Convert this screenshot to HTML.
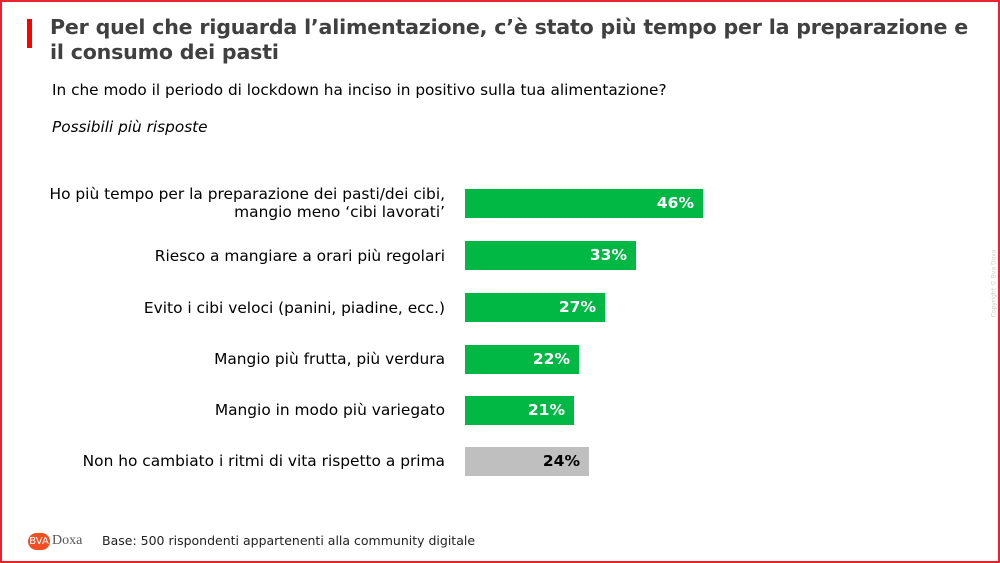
<!DOCTYPE html><html><head><style>
body{margin:0;width:1000px;height:563px;overflow:hidden;background:#fff;font-family:"DejaVu Sans","Liberation Sans",sans-serif;position:relative}
.frame{position:absolute;left:0;top:0;width:996px;height:559px;border:2px solid #e8232f}
.t{position:absolute;left:50px;top:15px;font-size:20.6px;font-weight:bold;color:#404040;line-height:25px;letter-spacing:-0.2px;white-space:nowrap}
.rb{position:absolute;left:27px;top:19px;width:5px;height:29px;background:#f00}
.s{position:absolute;left:52px;font-size:15.3px;color:#000;white-space:nowrap}
.l{position:absolute;right:555px;font-size:15.4px;color:#000;text-align:right;line-height:20px;white-space:nowrap}
.b{position:absolute;left:465px;height:29px;background:#00b843;color:#fff;font-weight:bold;font-size:15.5px;text-align:right;box-sizing:border-box;padding-right:9px;line-height:29px}
</style></head><body>
<div class="frame"></div>
<div class="rb"></div>
<div class="t">Per quel che riguarda l’alimentazione, c’è stato più tempo per la preparazione e<br>il consumo dei pasti</div>
<div class="s" style="top:81px">In che modo il periodo di lockdown ha inciso in positivo sulla tua alimentazione?</div>
<div class="s" style="top:118px;font-style:italic">Possibili più risposte</div>
<div class="l" style="top:185px;line-height:18px">Ho più tempo per la preparazione dei pasti/dei cibi,<br>mangio meno ‘cibi lavorati’</div>
<div class="l" style="top:246px">Riesco a mangiare a orari più regolari</div>
<div class="l" style="top:298px">Evito i cibi veloci (panini, piadine, ecc.)</div>
<div class="l" style="top:349px">Mangio più frutta, più verdura</div>
<div class="l" style="top:400px">Mangio in modo più variegato</div>
<div class="l" style="top:451px">Non ho cambiato i ritmi di vita rispetto a prima</div>
<div class="b" style="top:189px;width:238px">46%</div>
<div class="b" style="top:241px;width:171px">33%</div>
<div class="b" style="top:293px;width:140px">27%</div>
<div class="b" style="top:345px;width:114px">22%</div>
<div class="b" style="top:396px;width:109px">21%</div>
<div class="b" style="top:447px;width:124px;background:#bfbfbf;color:#000">24%</div>
<div style="position:absolute;left:28px;top:533px;width:22px;height:17px;border-radius:9px;background:#f04e23;color:#fff;font-size:10px;line-height:17px;text-align:center">BVA</div>
<div style="position:absolute;left:52px;top:533px;font-family:'Liberation Serif',serif;font-size:14px;color:#555">Doxa</div>
<div class="s" style="left:102px;top:533px;font-size:12.5px;color:#222">Base: 500 rispondenti appartenenti alla community digitale</div>
<div style="position:absolute;left:960px;top:280px;transform:rotate(-90deg);font-size:6px;color:#ccc;white-space:nowrap">Copyright © Bva Doxa</div>
</body></html>
